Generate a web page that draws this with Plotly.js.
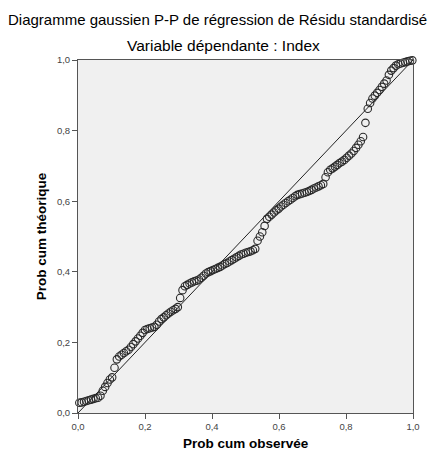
<!DOCTYPE html>
<html>
<head>
<meta charset="utf-8">
<script src="https://cdn.plot.ly/plotly-3.0.1.min.js"></script>
<style>html,body{margin:0;padding:0;background:#fff;}#chart{width:432px;height:450px;}</style>
</head>
<body>
<div id="chart"></div>
<script>
var mainTitle = "Diagramme gaussien P-P de régression de Résidu standardisé";
var subTitle = "Variable dépendante : Index";
var xTitle = "Prob cum observée";
var yTitle = "Prob cum théorique";

var obsProb = [0.004,0.011,0.018,0.025,0.032,0.039,0.046,0.053,0.060,0.067,0.074,0.081,0.088,0.095,0.102,0.109,0.116,0.123,0.130,0.137,0.144,0.151,0.158,0.165,0.172,0.179,0.186,0.193,0.200,0.207,0.214,0.221,0.228,0.235,0.242,0.249,0.256,0.263,0.270,0.277,0.284,0.291,0.298,0.305,0.312,0.319,0.326,0.333,0.340,0.347,0.354,0.361,0.368,0.375,0.382,0.389,0.396,0.403,0.410,0.417,0.424,0.431,0.438,0.445,0.452,0.459,0.466,0.473,0.480,0.487,0.494,0.501,0.508,0.515,0.522,0.529,0.536,0.543,0.550,0.557,0.564,0.571,0.578,0.585,0.592,0.599,0.606,0.613,0.620,0.627,0.634,0.641,0.648,0.655,0.662,0.669,0.676,0.683,0.690,0.697,0.704,0.711,0.718,0.725,0.732,0.739,0.746,0.753,0.760,0.767,0.774,0.781,0.788,0.795,0.802,0.809,0.816,0.823,0.830,0.837,0.844,0.851,0.858,0.865,0.872,0.879,0.886,0.893,0.900,0.907,0.914,0.921,0.928,0.935,0.942,0.949,0.956,0.963,0.970,0.977,0.984,0.991,0.998];

var theoProb = [0.029,0.030,0.032,0.034,0.036,0.038,0.040,0.042,0.043,0.049,0.063,0.074,0.085,0.095,0.101,0.128,0.152,0.160,0.165,0.170,0.175,0.179,0.187,0.195,0.203,0.211,0.219,0.227,0.235,0.238,0.240,0.242,0.244,0.250,0.259,0.266,0.271,0.277,0.282,0.287,0.291,0.295,0.300,0.326,0.348,0.359,0.363,0.367,0.370,0.373,0.375,0.378,0.383,0.389,0.395,0.399,0.402,0.405,0.408,0.411,0.414,0.418,0.422,0.425,0.429,0.433,0.437,0.441,0.445,0.449,0.451,0.454,0.456,0.458,0.461,0.465,0.488,0.500,0.512,0.530,0.550,0.556,0.562,0.568,0.574,0.579,0.585,0.590,0.595,0.600,0.604,0.609,0.614,0.618,0.620,0.622,0.624,0.626,0.629,0.632,0.636,0.639,0.642,0.645,0.649,0.668,0.682,0.689,0.693,0.698,0.703,0.708,0.712,0.717,0.723,0.729,0.735,0.742,0.751,0.760,0.770,0.782,0.822,0.862,0.878,0.891,0.899,0.907,0.915,0.924,0.933,0.942,0.958,0.970,0.977,0.984,0.988,0.990,0.992,0.994,0.996,0.998,0.999];

var diagX = [0, 1];
var diagY = [0, 1];
var tickVals = [0, 0.2, 0.4, 0.6, 0.8, 1.0];

var traces = [
  {x: diagX, y: diagY, type: 'scatter', mode: 'lines',
   line: {color: '#222', width: 1}, hoverinfo: 'skip'},
  {x: obsProb, y: theoProb, type: 'scatter', mode: 'markers',
   marker: {symbol: 'circle-open', size: 7.5, color: '#2a2a2a', line: {width: 1.1, color: '#2a2a2a'}},
   cliponaxis: false}
];

var axisCommon = {
  range: [0, 1], tickvals: tickVals, tickformat: '.1f',
  ticks: 'outside', ticklen: 5, tickcolor: '#555', tickwidth: 1,
  showgrid: false, zeroline: false, showline: true, linecolor: '#555', linewidth: 1,
  mirror: true, tickfont: {family: 'Liberation Sans, Arial, sans-serif', size: 9.5, color: '#444'}
};

var layout = {
  width: 432, height: 450,
  margin: {l: 78, r: 19, t: 60, b: 37},
  paper_bgcolor: '#ffffff', plot_bgcolor: '#f0f0f0',
  separators: ',.',
  showlegend: false,
  font: {family: 'Liberation Sans, Arial, sans-serif', color: '#000'},
  title: {text: mainTitle, font: {size: 15, color: '#000'}, xref: 'container', yref: 'container',
          x: 8/432, xanchor: 'left', y: 1 - 20/450, yanchor: 'middle'},
  xaxis: Object.assign({}, axisCommon, {title: {text: ''}}),
  yaxis: Object.assign({}, axisCommon, {
    title: {text: '<b>' + yTitle + '</b>', font: {size: 13.5, color: '#000'}, standoff: 7}
  }),
  annotations: [
    {text: subTitle, xref: 'paper', yref: 'paper', x: 0.434, y: 1, yshift: 4,
     xanchor: 'center', yanchor: 'bottom', showarrow: false,
     font: {size: 15.5, color: '#000'}},
    {text: '<b>' + xTitle + '</b>', xref: 'paper', yref: 'paper', x: 0.5, y: 0, yshift: -30,
     xanchor: 'center', yanchor: 'middle', showarrow: false,
     font: {size: 13.5, color: '#000'}}
  ]
};

Plotly.newPlot('chart', traces, layout, {displayModeBar: false, staticPlot: true});
</script>
</body>
</html>
